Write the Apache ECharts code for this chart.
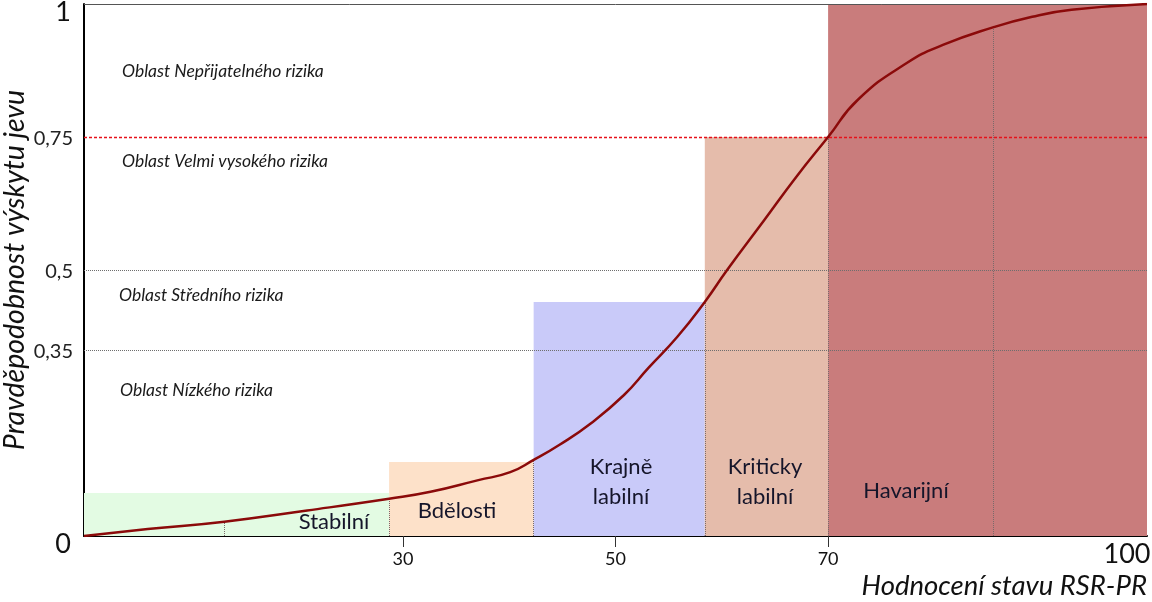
<!DOCTYPE html>
<html>
<head>
<meta charset="utf-8">
<script src="https://cdn.jsdelivr.net/npm/echarts@6/dist/echarts.min.js"></script>
<style>
html,body{margin:0;padding:0;background:#fff;}
#chart{width:1152px;height:602px;}
</style>
</head>
<body>
<div id="chart"></div>
<script>
// ---- data ----
const xTickValues = [30, 50, 70, 100];
const xTickMarks = [30, 50, 70];
const yTickValues = [0, 0.35, 0.5, 0.75, 1];
const gridLevels = [0.35, 0.5];
const limitLevel = 0.75;

const zoneNames = ['Stabilní', 'Bdělosti', 'Krajně\nlabilní', 'Kriticky\nlabilní', 'Havarijní'];
const zoneStart = [0, 28.7, 42.3, 58.4, 70];
const zoneEnd = [28.7, 42.3, 58.4, 70, 100];
const zoneTop = [0.081, 0.139, 0.44, 0.75, 1];
const zoneColors = ['#e3fbe3', '#fde1c9', '#c9caf9', '#e5bcab', '#c97c7c'];

const curveX = [0, 6, 13.2, 21, 28.7, 32.6, 37.1, 40.1, 42.3, 44.7, 47.7, 50.8, 53.1, 55.8, 58.4, 60.5, 64.0, 67.0, 70, 72.8, 77.4, 80.8, 85.5, 89.2, 92.9, 100];
const curveY = [0, 0.013, 0.027, 0.048, 0.070, 0.083, 0.105, 0.120, 0.143, 0.171, 0.212, 0.265, 0.316, 0.374, 0.44, 0.5, 0.594, 0.675, 0.75, 0.82, 0.889, 0.923, 0.956, 0.976, 0.989, 1];

const dropX = [13.2, 28.7, 42.3, 58.4, 70, 85.5];

const riskLabels = ['Oblast Nepřijatelného rizika', 'Oblast Velmi vysokého rizika', 'Oblast Středního rizika', 'Oblast Nízkého rizika'];
const yTitle = 'Pravděpodobnost výskytu jevu';
const xTitle = 'Hodnocení stavu RSR-PR';

// ---- chart ----
const FONT = 'Lato, "Open Sans", sans-serif';
const curve = curveX.map((x, i) => [x, curveY[i]]);
const yAt = x => curveY[curveX.indexOf(x)];

const chart = echarts.init(document.getElementById('chart'), null, {renderer: 'canvas'});

const fmtNum = v => String(v).replace('.', ',');

// label pixel positions (layout only)
const riskLabelPos = [[122, 71], [122, 161], [119, 295], [120, 390]];
const zoneLabelPos = [[334, 522], [457, 511], [621, 482], [765, 482], [906, 491]];

const graphics = [];
riskLabels.forEach((t, i) => {
  graphics.push({
    type: 'text', x: riskLabelPos[i][0], y: riskLabelPos[i][1], z: 20,
    style: {text: t, fill: '#1a1a1a', font: 'italic 17.5px ' + FONT, verticalAlign: 'middle'}
  });
});
zoneNames.forEach((t, i) => {
  graphics.push({
    type: 'text', x: zoneLabelPos[i][0], y: zoneLabelPos[i][1], z: 20,
    style: {text: t, fill: '#15152a', font: '22px ' + FONT, align: 'center', verticalAlign: 'middle', lineHeight: 30}
  });
});

const option = {
  animation: false,
  backgroundColor: '#ffffff',
  textStyle: {fontFamily: FONT},
  grid: {left: 84, right: 5, top: 4, bottom: 66, containLabel: false, outerBoundsMode: 'none'},
  xAxis: [{
    type: 'value', min: 0, max: 100,
    name: xTitle, nameLocation: 'end', nameGap: 0,
    nameTextStyle: {fontSize: 27.5, fontStyle: 'italic', color: '#111', align: 'right', verticalAlign: 'top', padding: [37, 0, 0, 0], fontFamily: FONT},
    axisLine: {show: true, onZero: false, lineStyle: {color: '#000', width: 2}},
    axisTick: {show: true, customValues: xTickMarks, length: 11, lineStyle: {color: '#333', width: 1}},
    axisLabel: {
      show: true, customValues: xTickValues, margin: 5, color: '#111',
      formatter: v => v === 100 ? '{big|100}' : '{small|' + v + '}',
      rich: {
        big: {fontSize: 27, color: '#111', fontFamily: FONT, padding: [0, 40, 0, 0]},
        small: {fontSize: 18, color: '#111', fontFamily: FONT, padding: [9, 0, 0, 0]}
      }
    },
    splitLine: {show: false}
  }, {
    type: 'value', min: 0, max: 100, position: 'bottom',
    axisLine: {show: false},
    axisTick: {show: true, inside: true, customValues: xTickMarks, length: 11, lineStyle: {color: '#333', width: 1}},
    axisLabel: {show: false},
    splitLine: {show: false}
  }],
  yAxis: {
    type: 'value', min: 0, max: 1,
    name: yTitle, nameLocation: 'middle', nameGap: 55, nameMoveOverlap: false,
    nameTextStyle: {fontSize: 28.5, fontStyle: 'italic', color: '#111', fontFamily: FONT},
    axisLine: {show: true, onZero: false, lineStyle: {color: '#000', width: 2}},
    axisTick: {show: false},
    axisLabel: {
      show: true, customValues: yTickValues, margin: 11, color: '#111',
      formatter: v => (v === 0 || v === 1) ? '{big|' + fmtNum(v) + '}' : '{small|' + fmtNum(v) + '}',
      rich: {
        big: {fontSize: 27, color: '#111', fontFamily: FONT, padding: [16, 2, 0, 0]},
        small: {fontSize: 20, color: '#222', fontFamily: FONT, padding: [4, 0, 0, 0]}
      }
    },
    splitLine: {show: false}
  },
  series: [{
    type: 'line', name: 'zones', data: [], z: 1, silent: true,
    markArea: {
      silent: true,
      data: zoneNames.map((n, i) => [
        {xAxis: zoneStart[i], yAxis: 0, itemStyle: {color: zoneColors[i]}},
        {xAxis: zoneEnd[i], yAxis: zoneTop[i]}
      ])
    }
  }, {
    type: 'line', name: 'gridLevels', data: [], z: 2, silent: true,
    markLine: {
      silent: true, symbol: 'none', label: {show: false},
      lineStyle: {color: '#6e6e6e', type: 'dotted', width: 1},
      data: gridLevels.map(v => ({yAxis: v}))
    }
  }, {
    type: 'line', name: 'dropLines', data: [], z: 2, silent: true,
    markLine: {
      silent: true, symbol: 'none', label: {show: false},
      lineStyle: {color: '#7a6a6a', type: 'dotted', width: 1},
      data: dropX.map(x => [{coord: [x, 0]}, {coord: [x, yAt(x)]}])
    }
  }, {
    type: 'line', name: 'limit', data: [], z: 3, silent: true,
    markLine: {
      silent: true, symbol: 'none', label: {show: false},
      lineStyle: {color: '#e8101a', type: [3, 2], width: 1.4, opacity: 1},
      data: [{yAxis: limitLevel}]
    }
  }, {
    type: 'line', name: 'top', data: [], z: 3, silent: true,
    markLine: {
      silent: true, symbol: 'none', label: {show: false},
      lineStyle: {color: '#555', type: 'solid', width: 1},
      data: [{yAxis: 1}]
    }
  }, {
    type: 'line', name: 'curve', data: curve, z: 5,
    smooth: 0.5, showSymbol: false, symbol: 'none',
    lineStyle: {color: '#8b0a0a', width: 2.5}
  }],
  graphic: graphics
};

chart.setOption(option);
</script>
</body>
</html>
